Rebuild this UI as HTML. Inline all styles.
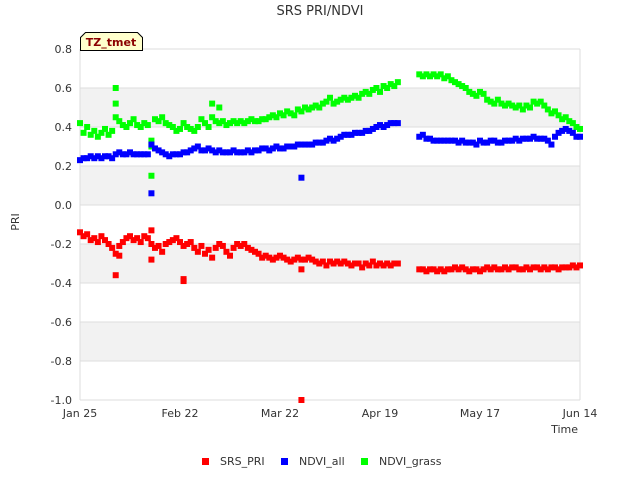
<!DOCTYPE html>
<html><head><meta charset="utf-8"><style>
body{margin:0;background:#fff;font-family:"Liberation Sans",sans-serif}
svg text{font-family:"DejaVu Sans","Liberation Sans",sans-serif}
</style></head><body>
<svg id="c" width="640" height="480" xmlns="http://www.w3.org/2000/svg">
<text x="320" y="15" text-anchor="middle" font-size="13" fill="#333">SRS PRI/NDVI</text>
<text transform="translate(19,222) rotate(-90)" text-anchor="middle" font-size="11" fill="#333">PRI</text>
<text x="578" y="433" text-anchor="end" font-size="11" fill="#333">Time</text>
<g id="grid"></g><g id="marks"></g>
<g>
<path d="M80.5,50.5 L80.5,37.5 L85.5,32.5 L137.5,32.5 L142.5,37.5 L142.5,50.5 Z" fill="#ffffcc" stroke="#000"/>
<text x="111" y="46" text-anchor="middle" font-size="11" font-weight="bold" fill="#8b0000">TZ_tmet</text>
</g>
<g>
<rect x="202" y="458" width="7" height="7" fill="#ff0000"/>
<text x="220" y="465" font-size="11" fill="#333">SRS_PRI</text>
<rect x="281" y="458" width="7" height="7" fill="#0000ff"/>
<text x="299" y="465" font-size="11" fill="#333">NDVI_all</text>
<rect x="361" y="458" width="7" height="7" fill="#00ff00"/>
<text x="379" y="465" font-size="11" fill="#333">NDVI_grass</text>
</g>
</svg>
<script>
const xTickLabels=["Jan 25","Feb 22","Mar 22","Apr 19","May 17","Jun 14"];
const xTickDays=[0,28,56,84,112,140];
const yTicks=[0.8,0.6,0.4,0.2,0.0,-0.2,-0.4,-0.6,-0.8,-1.0];
const days1=[];for(let d=0;d<=89;d++)days1.push(d);
const days2=[];for(let d=95;d<=140;d++)days2.push(d);
const priA=[-0.14,-0.16,-0.15,-0.18,-0.17,-0.19,-0.16,-0.18,-0.20,-0.22,-0.25,-0.21,-0.19,-0.17,-0.16,-0.18,-0.17,-0.19,-0.16,-0.17,-0.20,-0.22,-0.21,-0.24,-0.20,-0.19,-0.18,-0.17,-0.19,-0.21,-0.20,-0.19,-0.22,-0.24,-0.21,-0.25,-0.23,-0.27,-0.22,-0.20,-0.21,-0.24,-0.26,-0.22,-0.20,-0.21,-0.20,-0.22,-0.23,-0.24,-0.25,-0.27,-0.26,-0.27,-0.28,-0.27,-0.26,-0.27,-0.28,-0.29,-0.28,-0.27,-0.28,-0.28,-0.27,-0.28,-0.29,-0.30,-0.29,-0.31,-0.29,-0.30,-0.29,-0.30,-0.29,-0.30,-0.31,-0.30,-0.30,-0.32,-0.30,-0.31,-0.29,-0.31,-0.30,-0.31,-0.30,-0.31,-0.30,-0.30];
const priB=[-0.33,-0.33,-0.34,-0.33,-0.33,-0.34,-0.33,-0.34,-0.33,-0.33,-0.32,-0.33,-0.32,-0.33,-0.34,-0.33,-0.33,-0.34,-0.33,-0.32,-0.33,-0.32,-0.33,-0.33,-0.32,-0.33,-0.32,-0.32,-0.33,-0.33,-0.32,-0.33,-0.32,-0.32,-0.33,-0.32,-0.33,-0.32,-0.32,-0.33,-0.32,-0.32,-0.32,-0.31,-0.32,-0.31];
const priOut=[[10,-0.36],[11,-0.26],[29,-0.39],[29,-0.38],[20,-0.28],[62,-0.33],[62,-1.0],[20,-0.13]];
const allA=[0.23,0.24,0.24,0.25,0.24,0.25,0.24,0.25,0.25,0.24,0.26,0.27,0.26,0.26,0.27,0.26,0.26,0.26,0.26,0.26,0.31,0.29,0.28,0.27,0.26,0.25,0.26,0.26,0.26,0.27,0.27,0.28,0.29,0.30,0.28,0.28,0.29,0.28,0.27,0.28,0.27,0.27,0.27,0.28,0.27,0.27,0.27,0.28,0.27,0.28,0.28,0.29,0.29,0.28,0.29,0.30,0.29,0.29,0.30,0.30,0.30,0.31,0.31,0.31,0.31,0.31,0.32,0.32,0.32,0.33,0.34,0.33,0.34,0.35,0.36,0.36,0.36,0.37,0.37,0.37,0.38,0.38,0.39,0.40,0.41,0.40,0.41,0.42,0.42,0.42];
const allB=[0.35,0.36,0.34,0.34,0.33,0.33,0.33,0.33,0.33,0.33,0.33,0.32,0.33,0.32,0.32,0.32,0.31,0.33,0.32,0.32,0.33,0.33,0.32,0.32,0.33,0.33,0.33,0.34,0.33,0.34,0.34,0.34,0.35,0.34,0.34,0.34,0.33,0.31,0.35,0.37,0.38,0.39,0.38,0.37,0.35,0.35];
const allOut=[[20,0.06],[62,0.14]];
const grA=[0.42,0.37,0.40,0.36,0.38,0.35,0.37,0.39,0.36,0.38,0.45,0.43,0.41,0.40,0.42,0.44,0.41,0.40,0.42,0.41,0.33,0.44,0.43,0.45,0.42,0.41,0.40,0.38,0.39,0.42,0.40,0.39,0.38,0.40,0.44,0.42,0.40,0.45,0.43,0.42,0.43,0.41,0.42,0.43,0.42,0.43,0.42,0.43,0.44,0.43,0.43,0.44,0.44,0.45,0.46,0.45,0.47,0.46,0.48,0.47,0.46,0.49,0.48,0.50,0.49,0.50,0.51,0.50,0.52,0.53,0.55,0.52,0.53,0.54,0.55,0.54,0.55,0.56,0.55,0.57,0.58,0.57,0.59,0.60,0.58,0.61,0.60,0.62,0.61,0.63];
const grB=[0.67,0.66,0.67,0.66,0.67,0.66,0.67,0.65,0.66,0.64,0.63,0.62,0.61,0.60,0.58,0.57,0.56,0.58,0.57,0.54,0.53,0.52,0.54,0.52,0.51,0.52,0.51,0.50,0.51,0.49,0.51,0.50,0.53,0.52,0.53,0.51,0.49,0.47,0.48,0.46,0.44,0.45,0.43,0.42,0.40,0.39];
const grOut=[[10,0.60],[10,0.52],[20,0.15],[37,0.52],[39,0.50],[20,0.30]];

const X0=80,X1=580,Y0=49,Y1=400,DMAX=140,VMIN=-1,VMAX=0.8;
const xs=d=>X0+d/DMAX*(X1-X0);
const ys=v=>Y0+(VMAX-v)/(VMAX-VMIN)*(Y1-Y0);
const NS="http://www.w3.org/2000/svg";
const grid=document.getElementById('grid'),marks=document.getElementById('marks');
function mk(tag,attrs,parent){const e=document.createElementNS(NS,tag);for(const k in attrs)e.setAttribute(k,attrs[k]);parent.appendChild(e);return e;}
for(let i=0;i<yTicks.length-1;i++){
  if(i%2===1){const b=mk('rect',{x:X0,y:ys(yTicks[i]),width:X1-X0,height:ys(yTicks[i+1])-ys(yTicks[i]),fill:'#f2f2f2'},grid);
  
  }
}
yTicks.forEach(v=>{
  const l=mk('line',{x1:X0,x2:X1,y1:ys(v),y2:ys(v),stroke:'#dddddd'},grid);
  
  
  const t=mk('text',{x:72,y:ys(v)+4,'text-anchor':'end','font-size':11,fill:'#333'},grid);
  t.textContent=v.toFixed(1);
  
  
});
[X0,X1].forEach(x=>{const l=mk('line',{x1:x,x2:x,y1:Y0,y2:Y1,stroke:'#dddddd'},grid);
  
  });
xTickDays.forEach((d,i)=>{
  const t=mk('text',{x:xs(d),y:417,'text-anchor':'middle','font-size':11,fill:'#333'},grid);
  t.textContent=xTickLabels[i];
  
  
});
function pt(d,v,col,name){
  const r=mk('rect',{x:xs(d)-3,y:ys(v)-3,width:6,height:6,fill:col},marks);
  
  
}
function series(a,b,out,col,name){
  days1.forEach((d,i)=>pt(d,a[i],col,name));
  days2.forEach((d,i)=>pt(d,b[i],col,name));
  out.forEach(p=>pt(p[0],p[1],col,name));
}
series(grA,grB,grOut,'#00ff00','ndvi-grass-point');
series(allA,allB,allOut,'#0000ff','ndvi-all-point');
series(priA,priB,priOut,'#ff0000','srs-pri-point');
</script>
</body></html>
